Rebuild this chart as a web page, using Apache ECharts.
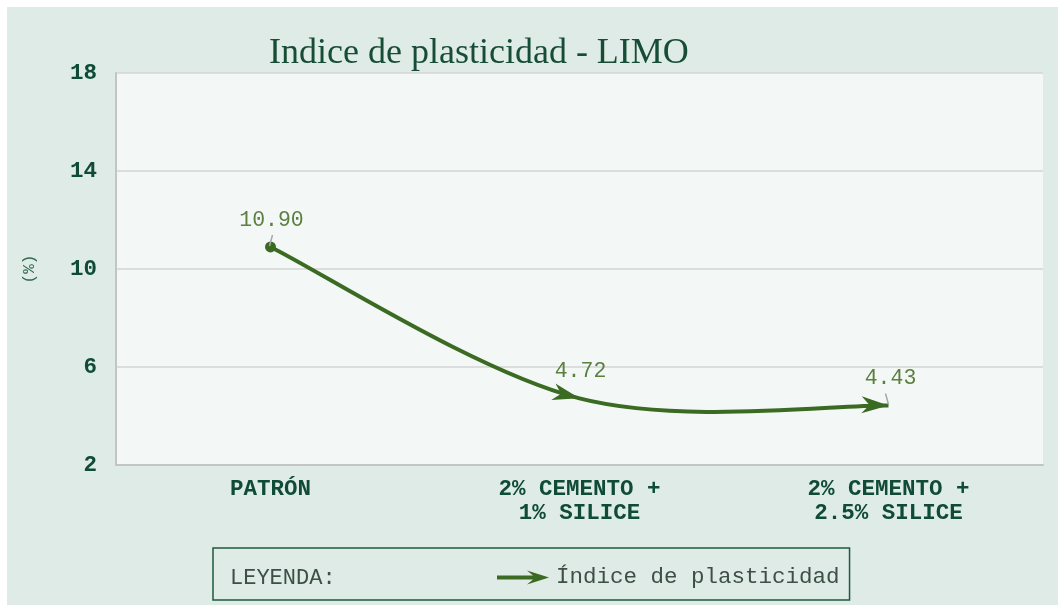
<!DOCTYPE html>
<html>
<head>
<meta charset="utf-8">
<script src="https://cdn.jsdelivr.net/npm/echarts@6/dist/echarts.min.js"></script>
<style>
  html, body { margin: 0; padding: 0; background: #ffffff; overflow: hidden; }
  #chart { position: absolute; left: 7px; top: 7px; width: 1051px; height: 598px; }
</style>
</head>
<body>
<div id="chart"></div>
<script>
// data
var categories = ['PATRÓN', '2% CEMENTO +\n1% SILICE', '2% CEMENTO +\n2.5% SILICE'];
var values = [10.90, 4.72, 4.43];
var yTicks = [2, 6, 10, 14, 18];
var seriesName = 'Índice de plasticidad';

var green = '#3b6a22';
var mono = '"Liberation Mono", "DejaVu Sans Mono", monospace';

var myChart = echarts.init(document.getElementById('chart'));

// arrow head with its tip on p, pointing along (dx, dy)
function arrowHead(p, dx, dy) {
    var len = Math.sqrt(dx * dx + dy * dy);
    var ux = dx / len, uy = dy / len;
    var nx = -uy, ny = ux;
    var bx = p[0] - ux * 27, by = p[1] - uy * 27;
    return {
        type: 'polygon',
        shape: {
            points: [
                [p[0], p[1]],
                [bx + nx * 8.5, by + ny * 8.5],
                [p[0] - ux * 19, p[1] - uy * 19],
                [bx - nx * 8.5, by - ny * 8.5]
            ]
        },
        style: { fill: green }
    };
}

// whole smoothed curve (catmull-rom style, like the spreadsheet) drawn once
function renderCurve(params, api) {
    if (params.dataIndex !== 0) return null;
    var pts = values.map(function (v, i) { return api.coord([i, v]); });
    var n = pts.length;
    var d = 'M' + pts[0][0] + ' ' + pts[0][1];
    var ends = [];
    for (var i = 0; i < n - 1; i++) {
        var p0 = pts[Math.max(i - 1, 0)], p1 = pts[i], p2 = pts[i + 1], p3 = pts[Math.min(i + 2, n - 1)];
        var c1 = [p1[0] + (p2[0] - p0[0]) / 6, p1[1] + (p2[1] - p0[1]) / 6];
        var c2 = [p2[0] - (p3[0] - p1[0]) / 6, p2[1] - (p3[1] - p1[1]) / 6];
        d += ' C' + c1[0] + ' ' + c1[1] + ' ' + c2[0] + ' ' + c2[1] + ' ' + p2[0] + ' ' + p2[1];
        ends.push(arrowHead(p2, p2[0] - c2[0], p2[1] - c2[1]));
    }
    var children = [{
        type: 'path',
        shape: { pathData: d },
        style: { fill: null, stroke: green, lineWidth: 4 }
    }, {
        type: 'circle',
        shape: { cx: pts[0][0], cy: pts[0][1], r: 5.5 },
        style: { fill: green }
    }].concat(ends);

    // value labels with their short leader lines
    var leader = [[2, -1], null, [-3, 0]];
    pts.forEach(function (p, i) {
        if (leader[i]) {
            children.push({
                type: 'line',
                shape: { x1: p[0] + leader[i][1], y1: p[1] - 1, x2: p[0] + leader[i][0], y2: p[1] - 12 },
                style: { stroke: '#a8a8a8', lineWidth: 1.5 }
            });
        }
        children.push({
            type: 'text',
            x: p[0] + (i == 2 ? 2 : 1),
            y: p[1] - 27,
            style: {
                text: values[i].toFixed(2),
                font: '21.5px ' + mono,
                fill: '#5b7f3e',
                align: 'center',
                verticalAlign: 'middle'
            }
        });
    });
    return { type: 'group', children: children };
}

var option = {
    backgroundColor: '#deebe6',
    title: {
        text: 'Indice de plasticidad - LIMO',
        left: 257,
        top: 24,
        textStyle: {
            fontFamily: '"Liberation Serif", "DejaVu Serif", serif',
            fontWeight: 'normal',
            fontSize: 36,
            color: '#174d36'
        }
    },
    grid: {
        left: 109,
        right: 15,
        top: 66,
        bottom: 140,
        show: true,
        backgroundColor: '#f3f8f6',
        borderWidth: 0
    },
    legend: {
        left: 206,
        top: 541,
        padding: [18, 10, 11, 284],
        borderColor: '#1d5a3e',
        borderWidth: 1.5,
        itemWidth: 52,
        itemHeight: 14,
        icon: 'path://M0,5 L36,5 L30,0 L52,7 L30,14 L36,9 L0,9 Z',
        textStyle: {
            fontFamily: mono,
            fontSize: 22.5,
            color: '#3d5046',
            padding: [0, 0, 0, 2]
        },
        data: [seriesName]
    },
    graphic: [{
        type: 'text',
        left: 223,
        top: 560,
        style: {
            text: 'LEYENDA:',
            font: '22px ' + mono,
            fill: '#3d5046'
        }
    }],
    xAxis: {
        type: 'category',
        data: categories,
        boundaryGap: true,
        axisLine: { show: true, lineStyle: { color: '#c4c4c4', width: 2 } },
        axisTick: { show: false },
        axisLabel: {
            margin: 12,
            fontFamily: mono,
            fontWeight: 'bold',
            fontSize: 22.5,
            lineHeight: 24,
            color: '#0f4b36'
        }
    },
    yAxis: {
        type: 'value',
        min: yTicks[0],
        max: yTicks[yTicks.length - 1],
        interval: 4,
        name: '(%)',
        nameLocation: 'middle',
        nameGap: 78,
        nameTextStyle: {
            fontFamily: mono,
            fontSize: 16,
            color: '#2f6a52'
        },
        axisLine: { show: true, lineStyle: { color: '#c4c4c4', width: 2 } },
        axisTick: { show: false },
        splitLine: { lineStyle: { color: '#d4d4d4', width: 1.5 } },
        axisLabel: {
            margin: 19,
            fontFamily: mono,
            fontWeight: 'bold',
            fontSize: 22.5,
            color: '#0f4b36'
        }
    },
    series: [{
        name: seriesName,
        type: 'custom',
        clip: false,
        data: values.map(function (v, i) { return [i, v]; }),
        encode: { x: 0, y: 1 },
        itemStyle: { color: green },
        renderItem: renderCurve
    }]
};

myChart.setOption(option);
window.addEventListener('resize', function () {
    if (myChart != null) {
        myChart.resize();
    }
});
</script>
</body>
</html>
